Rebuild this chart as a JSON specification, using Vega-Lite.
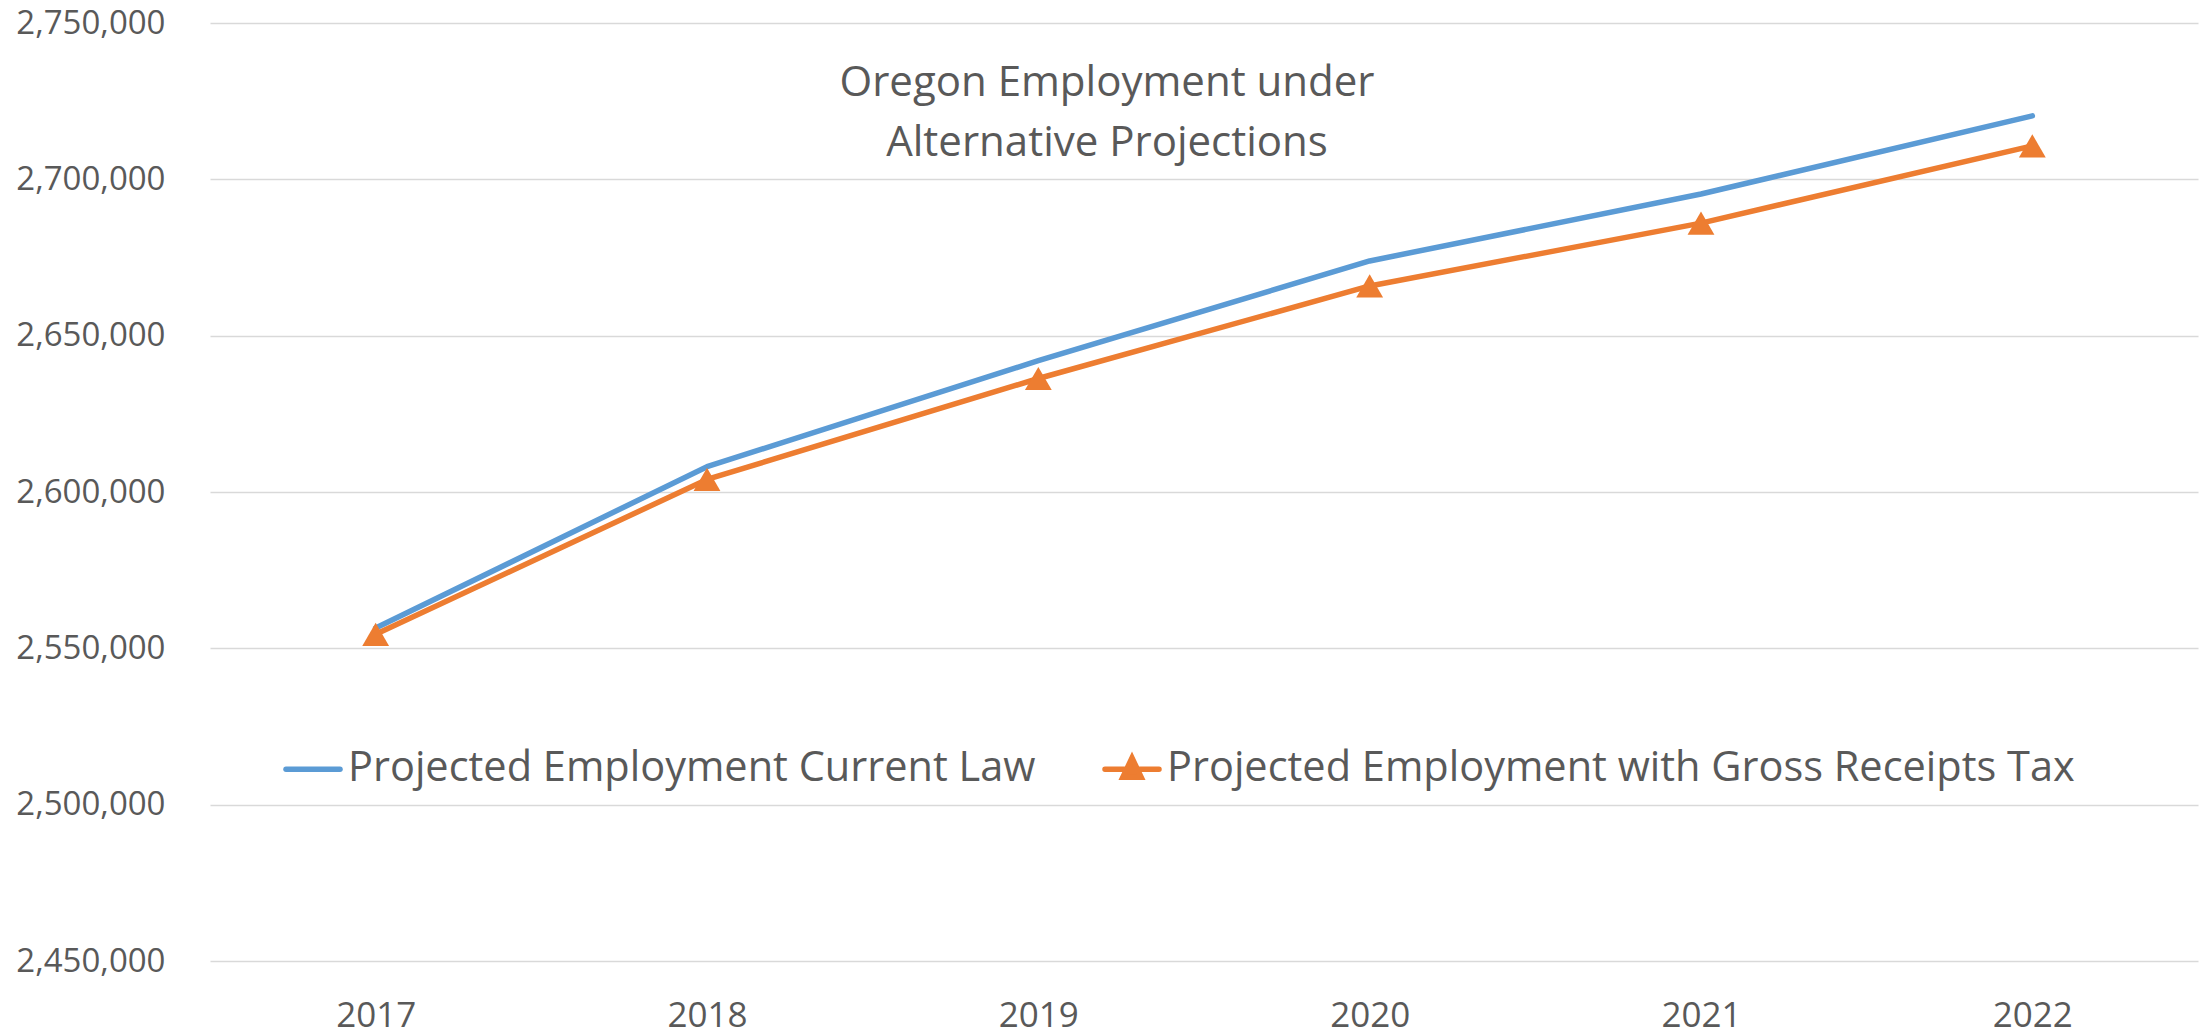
{
  "$schema": "https://vega.github.io/schema/vega-lite/v6.json",
  "width": 1988,
  "height": 938,
  "autosize": {"type": "none"},
  "padding": {"left": 210, "top": 23, "right": 10, "bottom": 74},
  "background": "white",
  "config": {
    "view": {"stroke": null},
    "font": "Open Sans"
  },
  "title": {
    "text": ["Oregon Employment under", "Alternative Projections"],
    "anchor": "middle",
    "frame": "group",
    "orient": "top",
    "font": "Open Sans",
    "fontSize": 42,
    "fontWeight": "normal",
    "color": "#595959",
    "lineHeight": 60,
    "baseline": "top",
    "offset": 0,
    "dx": -97,
    "dy": 158
  },
  "data": {
    "values": [
      {"year": "2017", "series": "Projected Employment Current Law", "value": 2556500},
      {"year": "2018", "series": "Projected Employment Current Law", "value": 2608100},
      {"year": "2019", "series": "Projected Employment Current Law", "value": 2642000},
      {"year": "2020", "series": "Projected Employment Current Law", "value": 2673900},
      {"year": "2021", "series": "Projected Employment Current Law", "value": 2695300},
      {"year": "2022", "series": "Projected Employment Current Law", "value": 2720300},
      {"year": "2017", "series": "Projected Employment with Gross Receipts Tax", "value": 2554500},
      {"year": "2018", "series": "Projected Employment with Gross Receipts Tax", "value": 2604000},
      {"year": "2019", "series": "Projected Employment with Gross Receipts Tax", "value": 2636300},
      {"year": "2020", "series": "Projected Employment with Gross Receipts Tax", "value": 2665900},
      {"year": "2021", "series": "Projected Employment with Gross Receipts Tax", "value": 2686000},
      {"year": "2022", "series": "Projected Employment with Gross Receipts Tax", "value": 2710700}
    ]
  },
  "encoding": {
    "x": {
      "field": "year",
      "type": "ordinal",
      "scale": {"type": "point", "padding": 0.5},
      "axis": {
        "title": null,
        "labelAngle": 0,
        "labelFont": "Open Sans",
        "labelFontSize": 35,
        "labelColor": "#595959",
        "ticks": false,
        "tickSize": 0,
        "domain": false,
        "grid": false,
        "labelBaseline": "alphabetic",
        "labelPadding": 65
      }
    },
    "y": {
      "field": "value",
      "type": "quantitative",
      "scale": {"domain": [2450000, 2750000], "nice": false, "zero": false},
      "axis": {
        "title": null,
        "values": [2450000, 2500000, 2550000, 2600000, 2650000, 2700000, 2750000],
        "format": ",d",
        "labelFont": "Open Sans",
        "labelFontSize": 33,
        "labelColor": "#595959",
        "ticks": false,
        "tickSize": 0,
        "domain": false,
        "labelPadding": 45,
        "gridColor": "#D9D9D9",
        "gridWidth": 1.5
      }
    }
  },
  "layer": [
    {
      "mark": {"type": "line", "strokeWidth": 5.5, "strokeCap": "round", "strokeJoin": "round"},
      "encoding": {
        "color": {
          "field": "series",
          "type": "nominal",
          "scale": {
            "domain": ["Projected Employment Current Law", "Projected Employment with Gross Receipts Tax"],
            "range": ["#5B9BD5", "#ED7D31"]
          },
          "legend": {
            "title": null,
            "orient": "none",
            "direction": "horizontal",
            "legendX": 73,
            "legendY": 716,
            "padding": 0,
            "labelFont": "Open Sans",
            "labelFontSize": 41.5,
            "labelColor": "#595959",
            "labelOffset": 5,
            "columnPadding": 58,
            "symbolSize": 2916,
            "symbolStrokeWidth": 5.5,
            "labelLimit": 2000,
            "encode": {
              "symbols": {
                "update": {
                  "shape": {"signal": "datum.value === 'Projected Employment Current Law' ? 'M-1,0H1' : 'M-1,0H1M0,-0.42L0.34,0.3L-0.34,0.3Z'"},
                  "fill": {"signal": "datum.value === 'Projected Employment Current Law' ? 'transparent' : '#ED7D31'"},
                  "strokeCap": {"value": "round"}
                }
              }
            }
          }
        }
      }
    },
    {
      "transform": [{"filter": "datum.series === 'Projected Employment with Gross Receipts Tax'"}],
      "mark": {"type": "point", "shape": "triangle-up", "filled": true, "size": 720, "color": "#ED7D31", "opacity": 1}
    }
  ]
}
